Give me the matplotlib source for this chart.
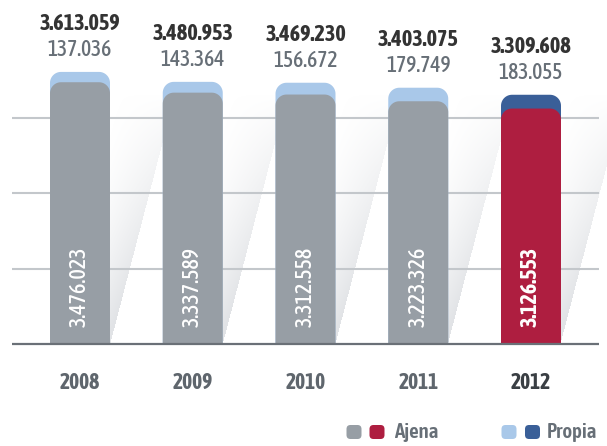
import numpy as np
import matplotlib
matplotlib.use("Agg")
import matplotlib.pyplot as plt
from matplotlib.patches import Polygon, FancyBboxPatch

# ---------------- data ----------------
years = ["2008", "2009", "2010", "2011", "2012"]
ajena = [3476023, 3337589, 3312558, 3223326, 3126553]
propia = [137036, 143364, 156672, 179749, 183055]
totals = [3613059, 3480953, 3469230, 3403075, 3309608]

def fmt(v):
    return f"{v:,}".replace(",", ".")

# ---------------- style ----------------
FONT = ["Asap Condensed", "DejaVu Sans"]
plt.rcParams["font.family"] = FONT

GRAY = "#979ea5"
LBLUE = "#a9c8e9"
DBLUE = "#3a5f98"
RED = "#ae1e40"
GRID = "#c3c7cb"
BASE = "#6a7077"
TXT_TOTAL = "#333333"
TXT_PROP = "#676f77"
TXT_YEAR = "#5f666d"

W_PX, H_PX = 607, 446
fig = plt.figure(figsize=(W_PX / 100, H_PX / 100), dpi=100)
ax = fig.add_axes([0, 0, 1, 1])
ax.set_axis_off()

# scale: values in millions
XL = (-0.7095, 4.674)
YL = (-1.3546, 4.568)
ax.set_xlim(*XL)
ax.set_ylim(*YL)
px_x = W_PX / (XL[1] - XL[0])
px_y = H_PX / (YL[1] - YL[0])

x = np.arange(len(years))
bw = 0.532
aj = np.array(ajena) / 1e6
tot = np.array(totals) / 1e6

# ---------------- shadows (gradient) ----------------
gx = np.linspace(XL[0], XL[1], W_PX)
gy = np.linspace(YL[0], YL[1], H_PX)
GX, GY = np.meshgrid(gx, gy)
alpha = np.zeros_like(GX)
slope = 0.26  # px horizontal per px vertical
for i in range(len(years)):
    xr = (x[i] + bw / 2)
    h = GY * px_y  # px above base
    xd = xr * px_x + slope * h
    px = GX * px_x
    d = xd - px
    inside = (px >= xr * px_x) & (d >= 0) & (h >= 0)
    a = np.clip(1 - d / 55.0, 0, 1) * np.clip(1 - h / 250.0, 0, 1) ** 0.8
    alpha = np.maximum(alpha, np.where(inside, a, 0))
rgba = np.zeros(GX.shape + (4,))
rgba[..., 0] = 0.885
rgba[..., 1] = 0.892
rgba[..., 2] = 0.902
rgba[..., 3] = np.clip(alpha * 1.1, 0, 1)
ax.imshow(rgba, extent=(XL[0], XL[1], YL[0], YL[1]), origin="lower",
          aspect="auto", zorder=0.5, interpolation="bilinear")

# ---------------- grid ----------------
gl, gr = XL[0] + 12 / px_x, XL[0] + 599 / px_x
for gv in [1, 2, 3]:
    ax.plot([gl, gr], [gv, gv], color=GRID, lw=1.5, zorder=1, solid_capstyle="butt")
ax.plot([gl, gr], [0, 0], color=BASE, lw=1.6, zorder=5, solid_capstyle="butt")

# ---------------- bars ----------------
def rbar(xc, top, color, r_px=11, z=2):
    rx, ry = r_px / px_x, r_px / px_y
    l, r = xc - bw / 2, xc + bw / 2
    t1 = np.linspace(0, np.pi / 2, 20)
    t2 = np.linspace(np.pi / 2, np.pi, 20)
    pts = [(l, 0), (r, 0)]
    pts += list(zip(r - rx + rx * np.cos(t1), top - ry + ry * np.sin(t1)))
    pts += list(zip(l + rx + rx * np.cos(t2), top - ry + ry * np.sin(t2)))
    ax.add_patch(Polygon(pts, closed=True, facecolor=color, edgecolor="none", zorder=z))

n = len(years)
for i in range(n):
    last = i == n - 1
    rbar(x[i], tot[i], DBLUE if last else LBLUE, z=2)
    rbar(x[i], aj[i], RED if last else GRAY, z=3)

    ax.text(x[i], tot[i] + 48 / px_y, fmt(totals[i]), ha="center", va="center",
            fontsize=16, fontweight="bold", color=TXT_TOTAL, zorder=6)
    ax.text(x[i], tot[i] + 22 / px_y, fmt(propia[i]), ha="center", va="center",
            fontsize=15.5, fontweight=500, color=TXT_PROP, zorder=6)
    ax.text(x[i], 17 / px_y, fmt(ajena[i]), ha="center", va="bottom", rotation=90,
            fontsize=15.8, fontweight="bold" if last else 500,
            color="white", zorder=6)
    ax.text(x[i], -39 / px_y, years[i], ha="center", va="center", fontsize=15.5,
            fontweight="bold", color="#3a3f44" if last else TXT_YEAR, zorder=6)

# ---------------- legend ----------------
lax = fig.add_axes([0, 0, 1, 1], facecolor="none")
lax.set_axis_off()
lax.set_xlim(0, W_PX)
lax.set_ylim(H_PX, 0)

def sq(x0, color):
    lax.add_patch(FancyBboxPatch((x0 + 3.5, 428.5), 8, 7,
                                 boxstyle="round,pad=3.5,rounding_size=4",
                                 facecolor=color, edgecolor="none"))

sq(346.5, GRAY)
sq(369.5, RED)
lax.text(394, 432, "Ajena", ha="left", va="center", fontsize=15,
         fontweight=600, color=TXT_PROP)
sq(501.5, LBLUE)
sq(525, DBLUE)
lax.text(547, 432, "Propia", ha="left", va="center", fontsize=15,
         fontweight=600, color=TXT_PROP)

fig.savefig("out.png", dpi=100, facecolor="white")
